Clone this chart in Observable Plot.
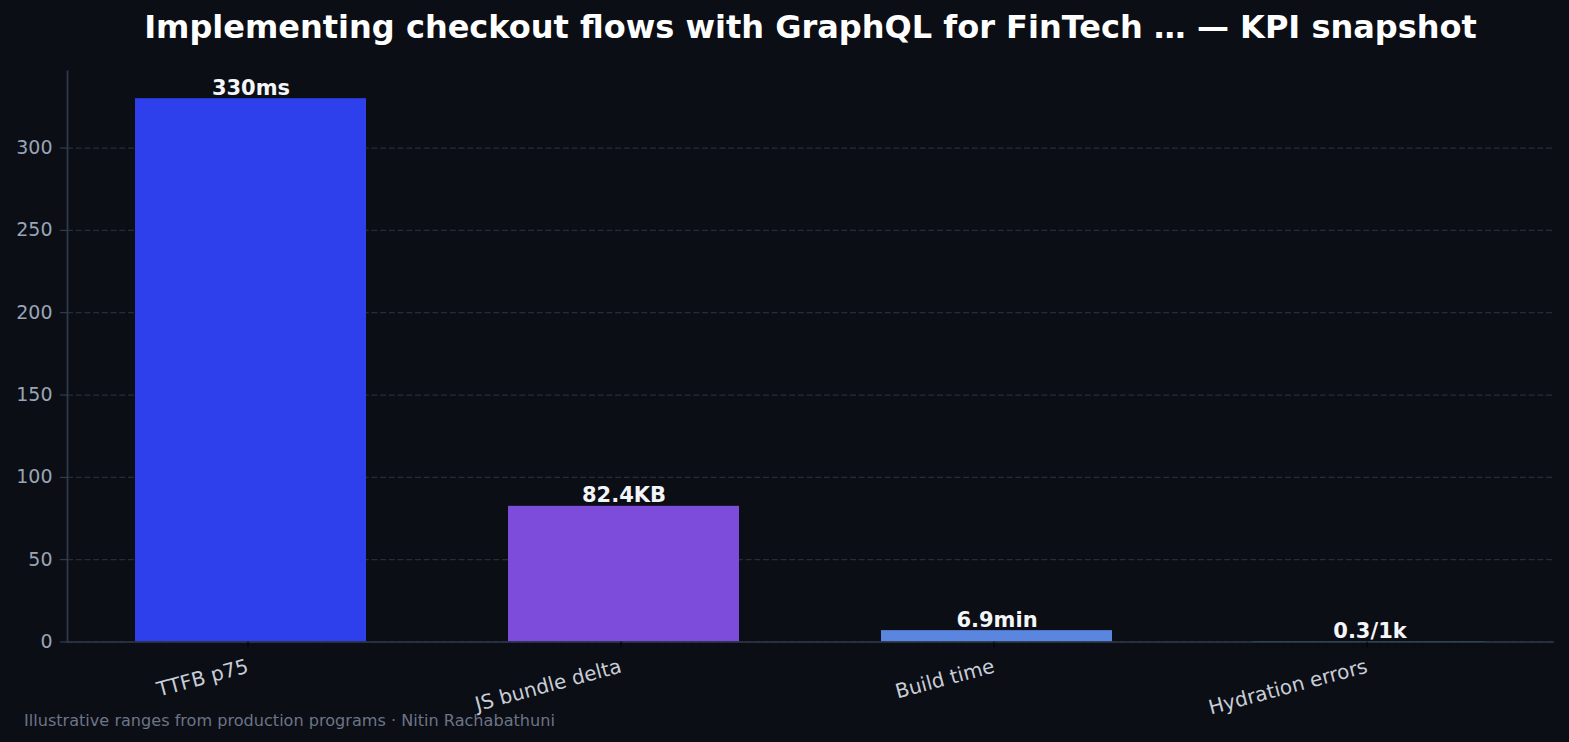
<!DOCTYPE html>
<html>
<head>
<meta charset="utf-8">
<script src="https://cdn.jsdelivr.net/npm/d3@7"></script>
<script src="https://cdn.jsdelivr.net/npm/@observablehq/plot@0.6"></script>
<style>
  html, body { margin: 0; padding: 0; background: #0b0e14; }
  #wrap { position: relative; width: 1569px; height: 742px; overflow: hidden; font-family: "DejaVu Sans", sans-serif; }
  #title { position: absolute; left: 67px; width: 1487px; top: 0; height: 50px; line-height: 50px; padding-top: 2px;
           text-align: center; color: #ffffff; font-weight: bold; font-size: 32px; white-space: nowrap; }
  #chart { position: absolute; left: 0; top: 50px; }
  #footer { position: absolute; left: 24px; top: 711px; color: #6c7587; font-size: 16.1px; white-space: nowrap; }
</style>
</head>
<body>
<div id="wrap">
  <div id="title">Implementing checkout flows with GraphQL for FinTech … — KPI snapshot</div>
  <div id="chart"></div>
  <div id="footer">Illustrative ranges from production programs · Nitin Rachabathuni</div>
</div>
<script>
// KPI categories, their values and the unit appended in each bar label
const metrics = ["TTFB p75", "JS bundle delta", "Build time", "Hydration errors"];
const values = [330, 82.4, 6.9, 0.3];
const units = ["ms", "KB", "min", "/1k"];
const colors = ["#2e40ec", "#7e4cdb", "#5a86e0", "#36c2b0"];
const yTicks = [0, 50, 100, 150, 200, 250, 300];

const rows = metrics.map((m, i) => ({
  metric: m,
  value: values[i],
  label: `${values[i]}${units[i]}`,
  color: colors[i]
}));

const yMax = d3.max(values) * 1.05;

const plot = Plot.plot({
  width: 1569,
  height: 692,
  marginTop: 21,
  marginBottom: 100.5,
  marginLeft: 67,
  marginRight: 15,
  style: { background: "transparent", fontFamily: "DejaVu Sans, sans-serif", overflow: "visible" },
  x: { domain: metrics, paddingInner: 0.38, paddingOuter: 0.18, label: null },
  y: { domain: [0, yMax], label: null },
  marks: [
    Plot.gridY(yTicks, { stroke: "#262c3a", strokeOpacity: 1, strokeWidth: 1.2, strokeDasharray: "6,2.7" }),
    Plot.barY(rows, { x: "metric", y: "value", fill: "color" }),
    Plot.ruleY([0], { stroke: "#2f394b", strokeWidth: 1.6 }),
    Plot.frame({ anchor: "left", stroke: "#2f394b", strokeWidth: 1.8 }),
    Plot.axisY({ ticks: yTicks, tickSize: 7, tickPadding: 8, fontSize: 19, stroke: "#3a4457", fill: "#9aa4b6", label: null }),
    Plot.axisX({ tickRotate: -15, tickSize: 6, tickPadding: 18, dx: -3, fontSize: 20, stroke: "#000000", fill: "#c8cdd7", label: null }),
    Plot.text(rows, { x: "metric", y: "value", text: "label", dy: -4, lineAnchor: "bottom",
                      fontSize: 21, fontWeight: "bold", fill: "#f3f5f9" })
  ]
});

document.getElementById("chart").appendChild(plot);
</script>
</body>
</html>
